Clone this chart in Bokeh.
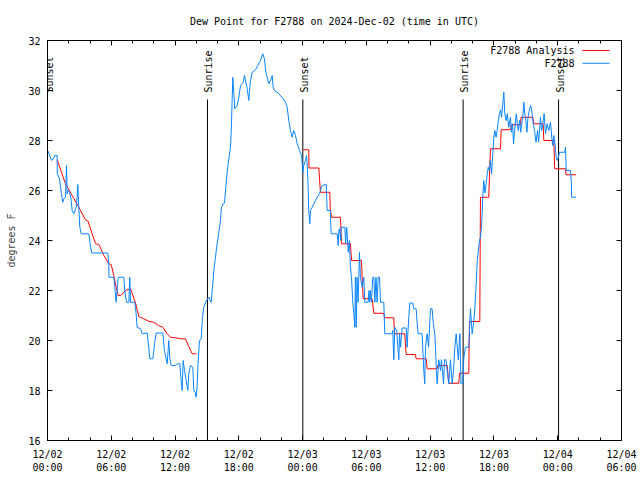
import math
from bokeh.plotting import figure
from bokeh.models import Range1d, LinearAxis, FixedTicker
from bokeh.embed import file_html
from bokeh.resources import INLINE
from bokeh.core.properties import value

# ---------------- data (hours since 2024-12-02 00:00 UTC, degrees F) -------------
obs_hours = [0.00, 0.06, 0.38, 0.60, 0.69, 0.90, 0.92, 1.13, 1.29, 1.44, 1.54, 1.69, 1.79, 1.85, 1.94,
             2.07, 2.20, 2.32, 2.48, 2.70, 2.79, 2.85, 2.95, 3.04, 3.17, 3.89, 4.05, 4.17, 5.67, 5.77,
             5.78, 6.24, 6.33, 6.46, 6.65, 7.18, 7.27, 7.43, 7.65, 7.74, 7.81, 8.21, 8.34, 8.43, 8.75,
             8.91, 9.38, 9.63, 9.91, 10.07, 10.22, 10.85, 11.00, 11.26, 11.41, 11.51, 11.64, 12.04,
             12.26, 12.45, 12.58, 12.67, 12.76, 12.89, 13.05, 13.20, 13.29, 13.45, 13.67, 13.76, 13.89,
             13.99, 14.08, 14.14, 14.30, 14.45, 14.58, 14.70, 14.96, 15.18, 15.40, 15.59, 15.65, 15.80,
             15.96, 16.12, 16.27, 16.37, 16.53, 16.65, 16.75, 16.90, 17.06, 17.22, 17.31, 17.37, 17.43,
             17.53, 17.62, 17.84, 18.00, 18.16, 18.41, 18.53, 18.79, 18.94, 19.03, 19.10, 19.26, 19.57,
             19.78, 20.04, 20.25, 20.41, 20.54, 20.82, 20.98, 21.14, 21.23, 21.35, 21.76, 22.17, 22.39,
             22.55, 22.70, 22.86, 23.02, 23.17, 23.33, 23.49, 23.71, 23.90, 24.02, 24.11, 24.27, 24.37,
             24.43, 24.52, 24.58, 24.68, 24.74, 24.90, 25.06, 25.21, 25.37, 25.59, 25.68, 25.84, 26.22,
             26.31, 26.62, 26.63, 26.69, 27.25, 27.35, 27.41, 27.47, 27.59, 27.62, 27.97, 28.05, 28.15,
             28.29, 28.40, 28.50, 28.60, 28.72, 28.82, 28.91, 28.97, 29.05, 29.12, 29.22, 29.35, 29.44,
             29.60, 29.76, 29.85, 30.16, 30.24, 30.30, 30.38, 30.47, 30.60, 30.70, 30.80, 30.90, 31.01,
             31.10, 31.23, 31.33, 31.64, 31.73, 32.42, 32.48, 32.58, 32.67, 32.85, 33.05, 33.12, 33.22,
             33.36, 33.74, 33.83, 33.93, 34.08, 34.37, 34.46, 34.68, 34.77, 34.87, 35.24, 35.30, 35.40,
             35.49, 35.56, 35.72, 35.85, 36.03, 36.18, 36.28, 36.43, 36.50, 36.58, 36.66, 36.81, 36.97,
             37.06, 37.26, 37.35, 37.48, 37.60, 37.75, 37.91, 38.07, 38.20, 38.32, 38.45, 38.55, 38.65,
             38.80, 38.90, 39.07, 39.15, 39.31, 39.48, 39.63, 39.79, 39.95, 40.10, 40.20, 40.33, 40.43,
             40.64, 40.73, 40.83, 40.89, 40.95, 41.04, 41.15, 41.27, 41.37, 41.46, 41.55, 41.61, 41.67,
             41.78, 41.89, 41.99, 42.08, 42.20, 42.30, 42.39, 42.52, 42.62, 42.72, 42.83, 42.93, 43.02,
             43.15, 43.25, 43.40, 43.55, 43.65, 43.75, 43.84, 43.94, 44.10, 44.20, 44.29, 44.42, 44.52,
             44.65, 44.75, 44.81, 44.90, 45.00, 45.10, 45.20, 45.32, 45.44, 45.52, 45.62, 45.72, 45.82,
             45.96, 46.10, 46.20, 46.38, 46.48, 46.60, 46.72, 46.85, 47.00, 47.16, 47.32, 47.45, 47.54,
             47.63, 47.72, 47.86, 47.95, 48.05, 48.17, 48.67, 48.73, 48.80, 49.20, 49.29, 49.30, 49.73]
obs_dewpt = [27.60, 27.57, 27.20, 27.30, 27.40, 27.40, 26.67, 26.47, 25.93, 25.53, 25.67, 25.73, 27.00, 25.87, 26.00,
             25.93, 25.70, 25.20, 25.07, 25.33, 25.73, 26.24, 25.27, 24.53, 24.27, 24.27, 23.73, 23.50, 23.50, 23.00,
             22.53, 22.53, 22.13, 21.53, 22.53, 22.53, 22.00, 21.53, 21.53, 22.53, 21.53, 21.53, 21.07, 20.53, 20.47,
             20.27, 20.30, 19.27, 19.27, 19.87, 20.30, 20.30, 19.60, 19.07, 20.00, 19.27, 19.00, 19.00,
             19.07, 19.07, 18.33, 18.00, 19.20, 18.80, 18.40, 18.00, 18.67, 19.00, 18.93, 18.00, 17.93,
             17.73, 18.20, 18.93, 20.00, 20.05, 20.93, 21.33, 21.60, 21.73, 21.53, 22.47, 22.80, 23.33,
             23.87, 24.33, 24.80, 25.33, 25.47, 25.50, 26.00, 26.73, 27.27, 27.73, 28.67, 29.60, 30.53,
             29.87, 29.27, 29.40, 29.73, 30.20, 30.33, 30.60, 30.07, 29.60, 30.13, 30.40, 30.73, 30.83,
             31.00, 31.20, 31.47, 31.27, 30.73, 30.27, 30.40, 30.60, 30.13, 30.00, 29.87, 29.67, 29.53,
             29.33, 28.80, 28.40, 28.13, 28.40, 28.20, 27.87, 27.60, 27.40, 26.73, 27.00, 27.20, 27.40,
             27.07, 26.13, 25.20, 24.67, 25.20, 25.33, 25.47, 25.60, 25.73, 25.87, 26.00, 26.20, 26.24,
             25.20, 25.20, 24.80, 24.27, 24.27, 23.80, 24.40, 24.47, 24.00, 24.53, 24.53, 23.90, 24.53,
             23.53, 24.00, 22.93, 22.53, 21.53, 21.07, 20.53, 22.53, 20.53, 22.53, 21.53, 23.53, 22.53,
             22.13, 22.53, 21.53, 21.53, 22.00, 21.53, 22.00, 21.53, 22.53, 22.53, 21.53, 22.53, 21.53,
             22.53, 22.53, 21.53, 21.53, 20.27, 20.27, 20.40, 19.23, 20.53, 20.40, 19.23, 20.27, 19.73,
             20.50, 20.50, 19.73, 20.50, 21.50, 21.50, 21.27, 21.27, 20.73, 20.27, 20.27, 19.73, 18.80,
             18.27, 19.73, 20.27, 19.73, 21.27, 21.27, 20.73, 20.27, 19.73, 18.80, 18.27, 19.23, 18.80,
             19.23, 18.27, 19.23, 19.23, 18.80, 18.27, 19.23, 18.27, 18.80, 19.73, 20.27, 19.73, 19.23,
             20.27, 18.27, 18.27, 19.23, 19.73, 19.73, 19.73, 21.27, 20.27, 20.76, 21.27, 22.27, 23.20,
             24.00, 24.13, 24.53, 25.07, 25.73, 26.40, 25.90, 26.27, 26.67, 26.93, 26.80, 26.93, 27.20,
             26.67, 27.47, 28.13, 28.40, 28.13, 28.40, 28.73, 29.07, 29.23, 28.93, 29.47, 29.93, 29.07,
             28.80, 29.07, 28.53, 28.93, 28.33, 28.67, 27.87, 28.40, 29.07, 28.67, 28.40, 28.80, 28.33,
             28.80, 29.13, 29.53, 29.07, 28.80, 28.33, 28.93, 29.20, 29.40, 29.33, 28.93, 28.60, 28.40,
             27.93, 28.40, 27.93, 28.93, 28.40, 28.67, 29.07, 28.27, 28.67, 28.40, 28.73, 28.07, 27.80,
             28.20, 27.93, 27.33, 27.20, 27.33, 27.53, 27.53, 27.73, 26.80, 26.80, 26.27, 25.73, 25.73]

ana1_hours = [0.91, 1.69, 2.32, 2.95, 3.57, 3.82, 4.20, 4.52, 4.83, 5.30, 5.77, 5.99, 6.24, 6.46, 6.65,
              6.90, 7.34, 7.81, 8.28, 8.59, 9.06, 9.53, 10.00, 10.47, 10.85, 11.26, 11.57, 12.04, 12.51,
              12.98, 13.29, 13.61, 13.99]
ana1_dewpt = [27.23, 26.27, 25.80, 25.33, 24.83, 24.77, 24.27, 23.87, 23.84, 23.40, 23.07, 23.04, 22.60, 22.13, 21.80,
              21.80, 22.00, 22.07, 21.50, 20.96, 20.87, 20.77, 20.73, 20.60, 20.53, 20.27, 20.13, 20.11, 20.07,
              20.07, 19.76, 19.47, 19.47]

ana2_hours = [24.05, 24.58, 24.60, 25.53, 25.60, 25.68, 26.56, 26.60, 26.72, 27.56, 27.66, 28.50, 28.60,
              29.54, 29.60, 29.70, 30.53, 30.60, 30.70, 31.64, 31.70, 32.58, 32.64, 33.61, 33.74, 34.62,
              34.68, 35.62, 35.72, 36.66, 36.71, 37.60, 37.75, 38.69, 38.76, 39.63, 39.70, 40.67, 40.73,
              41.51, 41.67, 42.62, 42.68, 43.56, 43.63, 44.50, 44.55, 45.66, 45.75, 46.63, 46.69, 47.63,
              47.72, 48.73, 48.79, 49.73]
ana2_dewpt = [27.63, 27.63, 26.90, 26.90, 26.40, 25.93, 25.93, 25.27, 24.93, 24.93, 23.87, 23.87, 23.20,
              23.20, 22.53, 21.67, 21.67, 21.47, 21.09, 21.09, 20.91, 20.91, 20.27, 20.27, 19.44, 19.44,
              19.27, 19.27, 18.87, 18.87, 19.00, 19.00, 18.29, 18.29, 18.69, 18.69, 20.76, 20.76, 25.73,
              25.73, 27.67, 27.67, 28.43, 28.43, 28.63, 28.63, 28.93, 28.93, 28.67, 28.67, 28.00, 28.00,
              26.87, 26.87, 26.63, 26.63]

sun_hours = [0.0, 15.05, 24.02, 39.10, 48.08]
sun_labels = ["Sunset", "Sunrise", "Sunset", "Sunrise", "Sunset"]

x_ticks = [0, 6, 12, 18, 24, 30, 36, 42, 48, 54]
x_tick_labels = ["12/02\n00:00", "12/02\n06:00", "12/02\n12:00", "12/02\n18:00", "12/03\n00:00",
                 "12/03\n06:00", "12/03\n12:00", "12/03\n18:00", "12/04\n00:00", "12/04\n06:00"]
y_ticks = [16, 18, 20, 22, 24, 26, 28, 30, 32]

title_text = "Dew Point for F2788 on 2024-Dec-02 (time in UTC)"
series_names = ["F2788 Analysis", "F2788"]

# ---------------- styling -----------------
FONT = "DejaVu Sans Mono"
FS = "10px"
RED = "#ff0000"
BLUE = "#0a84ff"
X0, X1, Y0, Y1 = 0, 54, 16, 32

p = figure(frame_width=574, frame_height=400,
           x_range=Range1d(X0, X1), y_range=Range1d(Y0, Y1),
           output_backend="svg", toolbar_location=None,
           min_border_left=47, min_border_right=19, min_border_top=40, min_border_bottom=40)
p.background_fill_color = "white"
p.border_fill_color = "white"
p.outline_line_color = "black"
p.xgrid.visible = False
p.ygrid.visible = False
p.title.visible = False

minor_x = list(range(X0, X1 + 1, 2))


def style_axis(ax):
    ax.axis_line_color = "black"
    ax.major_tick_line_color = "black"
    ax.minor_tick_line_color = "black"
    ax.major_tick_in = 5
    ax.major_tick_out = 0
    ax.minor_tick_in = 3
    ax.minor_tick_out = 0
    ax.major_label_text_font = FONT
    ax.major_label_text_font_size = FS
    ax.major_label_text_color = "black"


xa = p.xaxis[0]
xa.ticker = FixedTicker(ticks=x_ticks, minor_ticks=minor_x)
xa.major_label_overrides = {t: l for t, l in zip(x_ticks, x_tick_labels)}
xa.major_label_standoff = 8
style_axis(xa)

ya = p.yaxis[0]
ya.ticker = FixedTicker(ticks=y_ticks, minor_ticks=[])
ya.major_label_standoff = 7
style_axis(ya)
ya.axis_label = "degrees F"
ya.axis_label_text_font = FONT
ya.axis_label_text_font_size = FS
ya.axis_label_text_font_style = "normal"
ya.axis_label_standoff = 8

# mirrored tick marks (top and right) without labels: use minor ticks only
top_short = LinearAxis(ticker=FixedTicker(ticks=[], minor_ticks=minor_x))
style_axis(top_short)
top_short.minor_tick_in = 3
p.add_layout(top_short, "above")
top_long = LinearAxis(ticker=FixedTicker(ticks=[], minor_ticks=x_ticks))
style_axis(top_long)
top_long.minor_tick_in = 5
top_long.major_label_standoff = 0
# chart title carried as the label of the top axis
top_long.axis_label = title_text
top_long.axis_label_text_font = FONT
top_long.axis_label_text_font_size = FS
top_long.axis_label_text_font_style = "normal"
top_long.axis_label_text_color = "black"
top_long.axis_label_standoff = 14
p.add_layout(top_long, "above")
right = LinearAxis(ticker=FixedTicker(ticks=[], minor_ticks=y_ticks))
style_axis(right)
right.minor_tick_in = 5
p.add_layout(right, "right")

# sunrise / sunset markers
line_top = Y0 + (Y1 - Y0) * 0.8525
p.segment(x0=sun_hours, y0=[Y0] * len(sun_hours), x1=sun_hours, y1=[line_top] * len(sun_hours),
          line_color="black", line_width=1)
p.text(x=sun_hours, y=[Y0 + (Y1 - Y0) * 0.87] * len(sun_hours), text=sun_labels,
       angle=math.pi / 2, text_align="left", text_baseline="alphabetic", x_offset=1.5,
       text_font=value(FONT), text_font_size=value(FS), text_color="black")

# data lines
p.line(ana1_hours, ana1_dewpt, line_color=RED, line_width=1)
p.line(ana2_hours, ana2_dewpt, line_color=RED, line_width=1)
p.line(obs_hours, obs_dewpt, line_color=BLUE, line_width=1)

# gnuplot-style key (label then sample), top right inside the frame
key_text_x = X1 - 4.42
key_s0, key_s1 = X1 - 3.67, X1 - 1.13
key_y = [Y1 - 0.40, Y1 - 0.91]
p.text(x=[key_text_x] * 2, y=key_y, text=series_names, text_align="right", text_baseline="middle",
       text_font=value(FONT), text_font_size=value(FS), text_color="black")
p.segment(x0=[key_s0], y0=[key_y[0]], x1=[key_s1], y1=[key_y[0]], line_color=RED, line_width=1)
p.segment(x0=[key_s0], y0=[key_y[1]], x1=[key_s1], y1=[key_y[1]], line_color=BLUE, line_width=1)

open("out.html", "w").write(file_html(p, INLINE))
